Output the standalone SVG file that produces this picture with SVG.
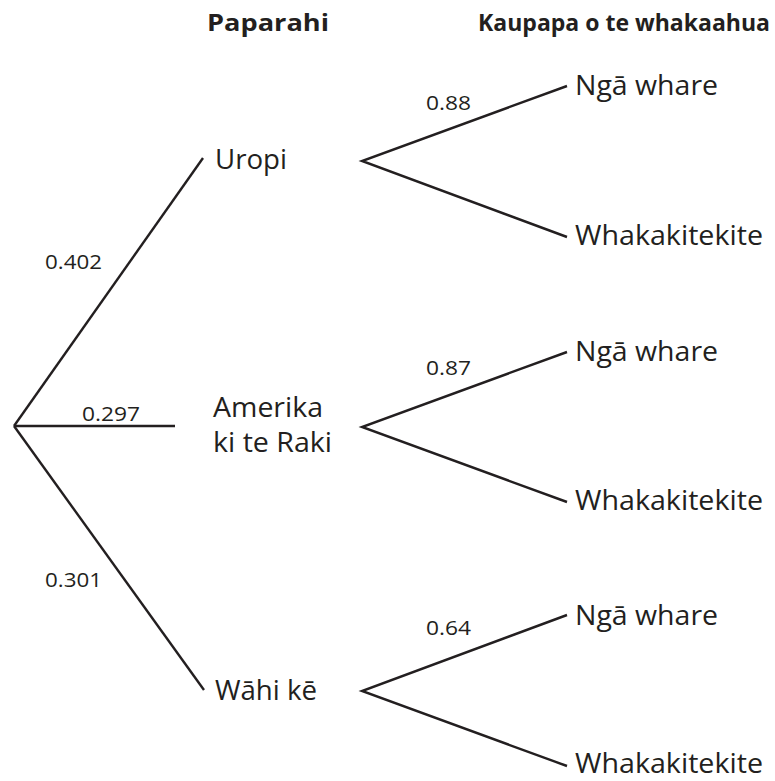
<svg xmlns="http://www.w3.org/2000/svg" width="775" height="781" viewBox="0 0 775 781">
<style>
.ln{stroke:#231f20;stroke-width:2.4;fill:none;stroke-linecap:butt}
.t{font-family:"Open Sans","Liberation Sans",Arial,sans-serif;fill:#231f20}
.lab{font-size:28px}
.p{font-size:20px}
.h{font-size:23px;font-weight:bold}
</style>
<rect width="775" height="781" fill="#fff"/>
<g id="headers">
<text class="t h" x="207" y="31" textLength="122" lengthAdjust="spacingAndGlyphs">Paparahi</text>
<text class="t h" x="478" y="31" textLength="292" lengthAdjust="spacingAndGlyphs">Kaupapa o te whakaahua</text>
</g>
<g id="connectors">
<line class="ln" x1="14" y1="426" x2="203" y2="158"/>
<line class="ln" x1="14" y1="426" x2="175" y2="426"/>
<line class="ln" x1="14" y1="426" x2="204" y2="690"/>
<polyline class="ln" points="567,86 362,161 567,237"/>
<polyline class="ln" points="567,352 362,427 567,502"/>
<polyline class="ln" points="567,615 362,691 567,766"/>
<text class="t p" x="45" y="269" textLength="57" lengthAdjust="spacingAndGlyphs">0.402</text>
<text class="t p" x="82" y="421" textLength="58" lengthAdjust="spacingAndGlyphs">0.297</text>
<text class="t p" x="45" y="587" textLength="57" lengthAdjust="spacingAndGlyphs">0.301</text>
<text class="t p" x="426" y="110" textLength="45" lengthAdjust="spacingAndGlyphs">0.88</text>
<text class="t p" x="426" y="375" textLength="45" lengthAdjust="spacingAndGlyphs">0.87</text>
<text class="t p" x="426" y="635" textLength="45" lengthAdjust="spacingAndGlyphs">0.64</text>
</g>
<g id="uropi"><text class="t lab" x="215" y="169" textLength="72" lengthAdjust="spacingAndGlyphs">Uropi</text></g>
<g id="amerika"><text class="t lab" x="213" y="417" textLength="110" lengthAdjust="spacingAndGlyphs">Amerika</text><text class="t lab" x="213" y="452" textLength="119" lengthAdjust="spacingAndGlyphs">ki te Raki</text></g>
<g id="wahike"><text class="t lab" x="215" y="700" textLength="102" lengthAdjust="spacingAndGlyphs">Wāhi kē</text></g>
<g id="uropi-nga"><text class="t lab" x="575" y="95" textLength="143" lengthAdjust="spacingAndGlyphs">Ngā whare</text></g>
<g id="uropi-wh"><text class="t lab" x="575" y="245" textLength="188" lengthAdjust="spacingAndGlyphs">Whakakitekite</text></g>
<g id="amerika-nga"><text class="t lab" x="575" y="361" textLength="143" lengthAdjust="spacingAndGlyphs">Ngā whare</text></g>
<g id="amerika-wh"><text class="t lab" x="575" y="510" textLength="188" lengthAdjust="spacingAndGlyphs">Whakakitekite</text></g>
<g id="wahike-nga"><text class="t lab" x="575" y="625" textLength="143" lengthAdjust="spacingAndGlyphs">Ngā whare</text></g>
<g id="wahike-wh"><text class="t lab" x="575" y="773" textLength="188" lengthAdjust="spacingAndGlyphs">Whakakitekite</text></g>
</svg>
